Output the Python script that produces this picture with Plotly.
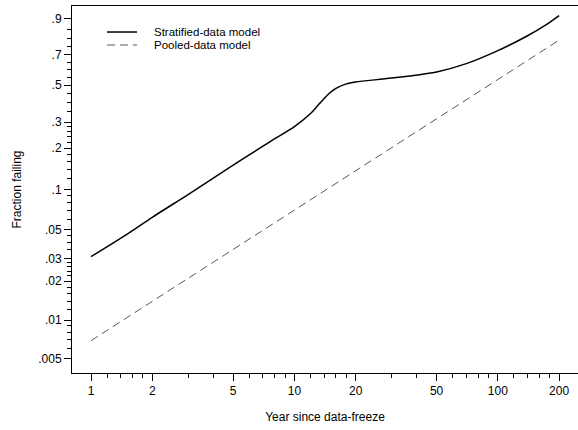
import numpy as np
import plotly.graph_objects as go

# ---- data ----
years_strat = [1, 1.5, 2, 3, 5, 7, 8, 10, 12, 13, 14, 15, 16, 18, 20, 30, 50, 70, 100, 140, 170, 200]
frac_strat = [0.031, 0.046, 0.062, 0.092, 0.151, 0.206, 0.232, 0.28, 0.34, 0.38, 0.42, 0.455,
              0.48, 0.508, 0.52, 0.545, 0.585, 0.64, 0.725, 0.815, 0.868, 0.912]

years_pooled = [1, 2, 5, 10, 20, 50, 100, 200]
frac_pooled = [0.0069, 0.0140, 0.0353, 0.0704, 0.1376, 0.3147, 0.5356, 0.790]

series_names = ["Stratified-data model", "Pooled-data model"]

y_tick_vals = [0.005, 0.01, 0.02, 0.03, 0.05, 0.1, 0.2, 0.3, 0.5, 0.7, 0.9]
y_tick_text = [".005", ".01", ".02", ".03", ".05", ".1", ".2", ".3", ".5", ".7", ".9"]
y_minor_vals = [0.006, 0.007, 0.008, 0.009, 0.012, 0.014, 0.016, 0.018,
                0.022, 0.024, 0.026, 0.028, 0.035, 0.04, 0.045,
                0.06, 0.07, 0.08, 0.09, 0.12, 0.14, 0.16, 0.18,
                0.22, 0.24, 0.26, 0.28, 0.35, 0.4, 0.45,
                0.55, 0.6, 0.65, 0.75, 0.8, 0.85]

x_tick_vals = [1, 2, 5, 10, 20, 50, 100, 200]
x_tick_text = ["1", "2", "5", "10", "20", "50", "100", "200"]
x_minor_vals = [1.2, 1.4, 1.6, 1.8, 3, 4, 6, 7, 8, 9, 12, 14, 16, 18, 30, 40,
                60, 70, 80, 90, 120, 140, 160, 180]


def weibull(p):
    p = np.asarray(p, dtype=float)
    return np.log(-np.log(1.0 - p))


solid_style = dict(color="black", width=1.5)
dash_style = dict(color="#444444", width=0.9, dash="8px,5px")

fig = go.Figure()
fig.add_trace(go.Scatter(
    x=years_strat, y=weibull(frac_strat), mode="lines",
    line=dict(**solid_style, shape="spline", smoothing=0.8),
    name=series_names[0], showlegend=False))
fig.add_trace(go.Scatter(
    x=years_pooled, y=weibull(frac_pooled), mode="lines",
    line=dash_style, name=series_names[1], showlegend=False))

# manual legend (paper coordinates)
leg_x0, leg_x1, leg_tx = 0.0692, 0.1285, 0.1601
leg_rows = [0.9291, 0.8937]
for yy, st, nm in zip(leg_rows, [solid_style, dash_style], series_names):
    fig.add_shape(type="line", xref="paper", yref="paper",
                  x0=leg_x0, x1=leg_x1, y0=yy, y1=yy, line=st)
    fig.add_annotation(xref="paper", yref="paper", x=leg_tx, y=yy, text=nm,
                       showarrow=False, xanchor="left", yanchor="middle",
                       font=dict(size=11.5), borderpad=0)

font = "Liberation Sans, Arial, sans-serif"
fig.update_layout(
    width=578, height=430,
    margin=dict(l=72, r=0, t=6, b=57),
    paper_bgcolor="white", plot_bgcolor="white",
    font=dict(family=font, size=12, color="black"),
    showlegend=False,
    xaxis=dict(type="log", range=[-0.0934, 2.394],
               tickmode="array", tickvals=x_tick_vals, ticktext=x_tick_text,
               ticks="outside", ticklen=7, tickwidth=1, tickcolor="black",
               minor=dict(tickvals=x_minor_vals, ticks="outside", ticklen=4,
                          tickwidth=1, tickcolor="black", showgrid=False),
               showgrid=False, zeroline=False,
               showline=True, linecolor="black", linewidth=1, mirror=True,
               title=dict(text="Year since data-freeze", standoff=15,
                          font=dict(size=12))),
    yaxis=dict(range=[-5.555, 1.060],
               tickmode="array", tickvals=list(weibull(y_tick_vals)), ticktext=y_tick_text,
               ticks="outside", ticklen=7, tickwidth=1, tickcolor="black",
               minor=dict(tickvals=list(weibull(y_minor_vals)), ticks="outside", ticklen=4,
                          tickwidth=1, tickcolor="black", showgrid=False),
               showgrid=False, zeroline=False,
               showline=True, linecolor="black", linewidth=1, mirror=False,
               title=dict(text="Fraction failing", standoff=14,
                          font=dict(size=12))),
)

fig.write_html("out.html")
